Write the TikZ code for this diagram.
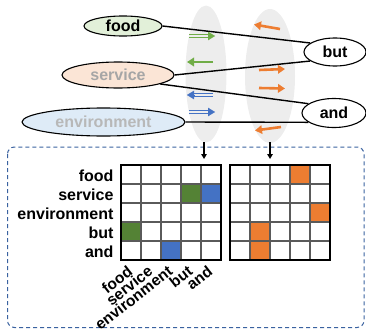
\documentclass[tikz,border=0pt]{standalone}
\usepackage{fontspec}
\setmainfont{Liberation Sans}
\usetikzlibrary{shapes.geometric,arrows.meta}
\definecolor{foodfill}{HTML}{E2F0D9}
\definecolor{servfill}{HTML}{FBE5D6}
\definecolor{envfill}{HTML}{DEEBF7}
\definecolor{cgreen}{HTML}{548235}
\definecolor{agreen}{HTML}{70AD47}
\definecolor{cblue}{HTML}{4472C4}
\definecolor{corange}{HTML}{ED7D31}
\definecolor{dashblue}{HTML}{3A62A0}
\definecolor{gfill}{HTML}{EDEDED}
\definecolor{servtext}{HTML}{A6A6A6}
\definecolor{envtext}{HTML}{B8B8B8}
\definecolor{gridc}{HTML}{5A5A5A}
\begin{document}
\begin{tikzpicture}[x=1pt,y=-1pt,
  font=\fontsize{16}{19}\selectfont\bfseries,
  word/.style={ellipse, draw=black, line width=1.1pt, inner sep=0pt},
  group/.style={ellipse, fill=gfill, inner sep=0pt},
  link/.style={draw=black, line width=1.4pt},
  fat/.style={line width=2.6pt, -{Triangle[length=7pt,width=8.5pt]}},
  thin2/.style={line width=0.9pt},
  down/.style={line width=1.4pt, -{Triangle[length=5pt,width=5.5pt]}},
  gridline/.style={draw=gridc, line width=1.4pt},
  rowlab/.style={anchor=base east},
  collab/.style={rotate=38, anchor=east, font=\fontsize{15.5}{18}\selectfont\bfseries}]
\useasboundingbox (0,0) rectangle (366,329);

% gray group ellipses
\node[group, minimum width=41, minimum height=137] (g1) at (206,74) {};
\node[group, minimum width=50, minimum height=134] (g2) at (270,76) {};

% word ellipses
\node[word, fill=foodfill, minimum width=78, minimum height=20] (food) at (123,26) {food};
\node[word, fill=servfill, text=servtext, minimum width=112, minimum height=26] (service) at (118,75) {service};
\node[word, fill=envfill, text=envtext, minimum width=163, minimum height=28] (environment) at (103.5,122) {environment};
\node[word, fill=white, minimum width=62, minimum height=28] (but) at (335,52) {but};
\node[word, fill=white, minimum width=64, minimum height=29] (and) at (334,113) {and};

% links
\draw[link] (food.east) -- (but.160);
\draw[link] (service.east) -- (but.200);
\draw[link] (service.-12) -- (and.160);
\draw[link] (environment.east) -- (and.200);

% green arrows
\coordinate (ga1) at (189,36); \coordinate (ga2) at (208,36); \coordinate (ga3) at (215,36);
\draw[thin2, agreen] ([yshift=-1.4]ga1) -- ([yshift=-1.4]ga2) ([yshift=1.4]ga1) -- ([yshift=1.4]ga2);
\draw[line width=0.1pt, agreen, -{Triangle[length=7pt,width=8.5pt]}] (ga2) -- (ga3);
\coordinate (gb1) at (213,62); \coordinate (gb2) at (187,62);
\draw[fat, agreen] (gb1) -- (gb2);

% blue arrows
\coordinate (ba1) at (213,95); \coordinate (ba2) at (194,95); \coordinate (ba3) at (187,95);
\draw[thin2, cblue] ([yshift=-1.4]ba1) -- ([yshift=-1.4]ba2) ([yshift=1.4]ba1) -- ([yshift=1.4]ba2);
\draw[line width=0.1pt, cblue, -{Triangle[length=7pt,width=8.5pt]}] (ba2) -- (ba3);
\coordinate (bb1) at (189,112); \coordinate (bb2) at (208,112); \coordinate (bb3) at (215,112);
\draw[thin2, cblue] ([yshift=-1.4]bb1) -- ([yshift=-1.4]bb2) ([yshift=1.4]bb1) -- ([yshift=1.4]bb2);
\draw[line width=0.1pt, cblue, -{Triangle[length=7pt,width=8.5pt]}] (bb2) -- (bb3);

% orange arrows
\coordinate (oa1) at (280,29); \coordinate (oa2) at (254,24.5);
\draw[fat, corange] (oa1) -- (oa2);
\coordinate (ob1) at (259,70); \coordinate (ob2) at (285,69);
\draw[fat, corange] (ob1) -- (ob2);
\coordinate (oc1) at (259,88); \coordinate (oc2) at (285,88.5);
\draw[fat, corange] (oc1) -- (oc2);
\coordinate (od1) at (281,127); \coordinate (od2) at (255,130.5);
\draw[fat, corange] (od1) -- (od2);

% dashed frame
\draw[dashblue, line width=1pt, dash pattern=on 4pt off 3pt, rounded corners=7pt]
  (7.5,147) rectangle (364,327.5);

% down arrows
\coordinate (d1s) at (204,142); \coordinate (d1e) at (204,159);
\coordinate (d2s) at (270,142); \coordinate (d2e) at (270,159);
\draw[down] (d1s) -- (d1e);
\draw[down] (d2s) -- (d2e);

% matrix 1 cells
\fill[cgreen] (121+3*20,165+1*19) rectangle ++(20,19);
\fill[cblue]  (121+4*20,165+1*19) rectangle ++(20,19);
\fill[cgreen] (121+0*20,165+3*19) rectangle ++(20,19);
\fill[cblue]  (121+2*20,165+4*19) rectangle ++(20,19);
% matrix 2 cells
\fill[corange] (230+3*20,165+0*19) rectangle ++(20,19);
\fill[corange] (230+4*20,165+2*19) rectangle ++(20,19);
\fill[corange] (230+1*20,165+3*19) rectangle ++(20,19);
\fill[corange] (230+1*20,165+4*19) rectangle ++(20,19);

\foreach \xo in {121,230}{
  \foreach \i in {1,...,4}{
    \draw[gridline] (\xo+\i*20,165) -- (\xo+\i*20,260);
    \draw[gridline] (\xo,165+\i*19) -- (\xo+100,165+\i*19);
  }
  \draw[black, line width=1.4pt] (\xo,165) rectangle (\xo+100,260);
}

% row labels
\node[rowlab] (r1) at (117,181) {food};
\node[rowlab] (r2) at (117,200) {service};
\node[rowlab] (r3) at (117,219) {environment};
\node[rowlab] (r4) at (117,238) {but};
\node[rowlab] (r5) at (117,257) {and};

% column labels
\node[collab] (c1) at (133,267) {food};
\node[collab] (c2) at (153,267) {service};
\node[collab] (c3) at (173,267) {environment};
\node[collab] (c4) at (193,267) {but};
\node[collab] (c5) at (213,267) {and};
\end{tikzpicture}
\end{document}
